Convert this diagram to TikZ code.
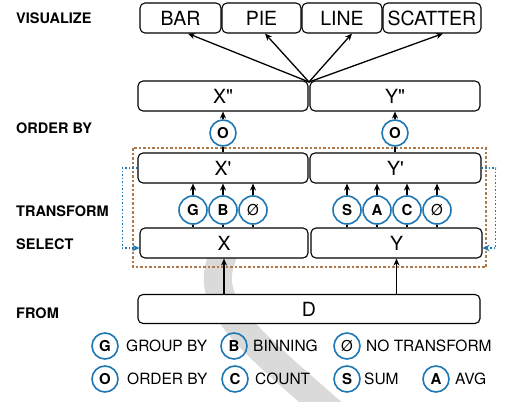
\documentclass[tikz,border=0pt]{standalone}
\usepackage{fontspec}
\setmainfont{TeX Gyre Heros}
\usetikzlibrary{arrows.meta}
\definecolor{cblue}{HTML}{1F78B4}
\definecolor{cbrown}{HTML}{B07A4A}
\definecolor{swoosh}{HTML}{DADADA}
\begin{document}
\begin{tikzpicture}[x=1pt,y=-1pt,
  box/.style={draw=black, line width=1.1pt, rounded corners=5pt, minimum height=30pt, inner sep=0pt, font=\fontsize{19.5}{20}\selectfont},
  op/.style={draw=cblue, line width=1.6pt, circle, minimum size=28pt, inner sep=0pt, font=\bfseries\fontsize{15}{16}\selectfont},
  lop/.style={op, minimum size=26pt},
  ltext/.style={anchor=west, inner sep=0pt, font=\fontsize{15.5}{16}\selectfont},
  stage/.style={anchor=west, inner sep=0pt, font=\bfseries\fontsize{14.5}{15}\selectfont},
  arr/.style={-{Stealth[length=7pt,width=6pt]}, line width=1.3pt},
  ln/.style={line width=1.3pt},
  bluedot/.style={draw=cblue, dotted, line width=1.5pt, -{Stealth[length=7pt,width=6.5pt]}}
]
\useasboundingbox (0,0) rectangle (505,401);
\fill[white] (0,0) rectangle (505,401);
% background grey swoosh
\begin{scope}
\clip (0,0) rectangle (505,401);
\draw[swoosh, line width=28pt, line cap=round] (222,258) .. controls (203,305) and (250,340) .. (335,415);
\end{scope}

% stage labels
\node[stage] (lvis) at (16,18) {VISUALIZE};
\node[stage] (lord) at (16,128) {ORDER BY};
\node[stage] (ltra) at (16,211) {TRANSFORM};
\node[stage] (lsel) at (16,244) {SELECT};
\node[stage] (lfrom) at (16,313) {FROM};

% visualize boxes
\node[box, minimum width=81pt, fill=white] (bar) at (180.5,18) {BAR};
\node[box, minimum width=79pt, fill=white] (pie) at (261.5,18) {PIE};
\node[box, minimum width=80pt, fill=white] (line) at (342,18) {LINE};
\node[box, minimum width=98pt, fill=white] (scatter) at (432,18) {SCATTER};

% X'' Y''
\node[box, minimum width=170pt, fill=white] (xpp) at (223,96) {X\textquotedbl};
\node[box, minimum width=170pt, fill=white] (ypp) at (395,96) {Y\textquotedbl};
\coordinate (hub) at (309,82);
\draw[arr] (hub) -- ([xshift=7.5pt]bar.south);
\draw[arr] (hub) -- ([xshift=3.5pt]pie.south);
\draw[arr] (hub) -- ([xshift=10pt]line.south);
\draw[arr] (hub) -- ([xshift=11pt]scatter.south);

% frame
\draw[cbrown, dashed, dash pattern=on 2.5pt off 2pt, line width=1.2pt] (133,148) rectangle (486,267);

% X' Y'
\node[box, minimum width=170pt, fill=white] (xp) at (223,168) {X\textquotesingle};
\node[box, minimum width=171pt, fill=white] (yp) at (395.5,168) {Y\textquotesingle};

% order circles
\node[lop, fill=white] (o1) at (223,133) {O};
\node[lop, fill=white] (o2) at (395,133) {O};
\draw[arr] (o1.north) -- (o1.north |- xpp.south);
\draw[arr] (o2.north) -- (o2.north |- ypp.south);
\draw[ln] (o1.south) -- (o1.south |- xp.north);
\draw[ln] (o2.south) -- (o2.south |- yp.north);

% X Y
\node[box, minimum width=168pt, fill=white] (x) at (224,243) {X};
\node[box, minimum width=171pt, fill=white] (y) at (396.5,243) {Y};

% transform circles
\node[op, fill=white] (g) at (193,210) {G};
\node[op, fill=white] (b) at (223,210) {B};
\node[op, fill=white, font=\fontsize{15}{16}\selectfont] (n1) at (253,210) {Ø};
\node[op, fill=white] (s) at (347,210) {S};
\node[op, fill=white] (a) at (377,210) {A};
\node[op, fill=white] (c) at (407,210) {C};
\node[op, fill=white, font=\fontsize{15}{16}\selectfont] (n2) at (437,210) {Ø};
\foreach \n/\lo/\hi in {g/x/xp, b/x/xp, n1/x/xp, s/y/yp, a/y/yp, c/y/yp, n2/y/yp}{
  \draw[ln] (\n.south) -- (\n.south |- \lo.north);
  \draw[arr] (\n.north) -- (\n.north |- \hi.south);
}

% blue dotted loops
\draw[bluedot] (xp.west) -- ++(-15,0) |- ([yshift=-5pt]x.west);
\draw[bluedot] (yp.east) -- ++(14,0) |- ([yshift=-5pt]y.east);

% D
\node[box, minimum width=342pt, minimum height=29pt, fill=white] (d) at (309,309) {D};
\draw[arr] (x.south |- d.north) -- (x.south);
\draw[arr] (y.south |- d.north) -- (y.south);

% legend
\node[lop] (lg) at (105,346) {G};
\node[ltext] (tg) at (126,346) {GROUP BY};
\node[lop] (lb) at (234,346) {B};
\node[ltext] (tb) at (253,346) {BINNING};
\node[lop, font=\fontsize{15}{16}\selectfont] (ln) at (347,346) {Ø};
\node[ltext] (tn) at (366,346) {NO TRANSFORM};
\node[lop] (lo) at (105,379) {O};
\node[ltext] (to) at (127,379) {ORDER BY};
\node[lop] (lc) at (235,379) {C};
\node[ltext] (tc) at (255,379) {COUNT};
\node[lop] (ls) at (347,379) {S};
\node[ltext] (ts) at (364,379) {SUM};
\node[lop] (la) at (436,379) {A};
\node[ltext] (ta) at (455,379) {AVG};
\end{tikzpicture}
\end{document}
